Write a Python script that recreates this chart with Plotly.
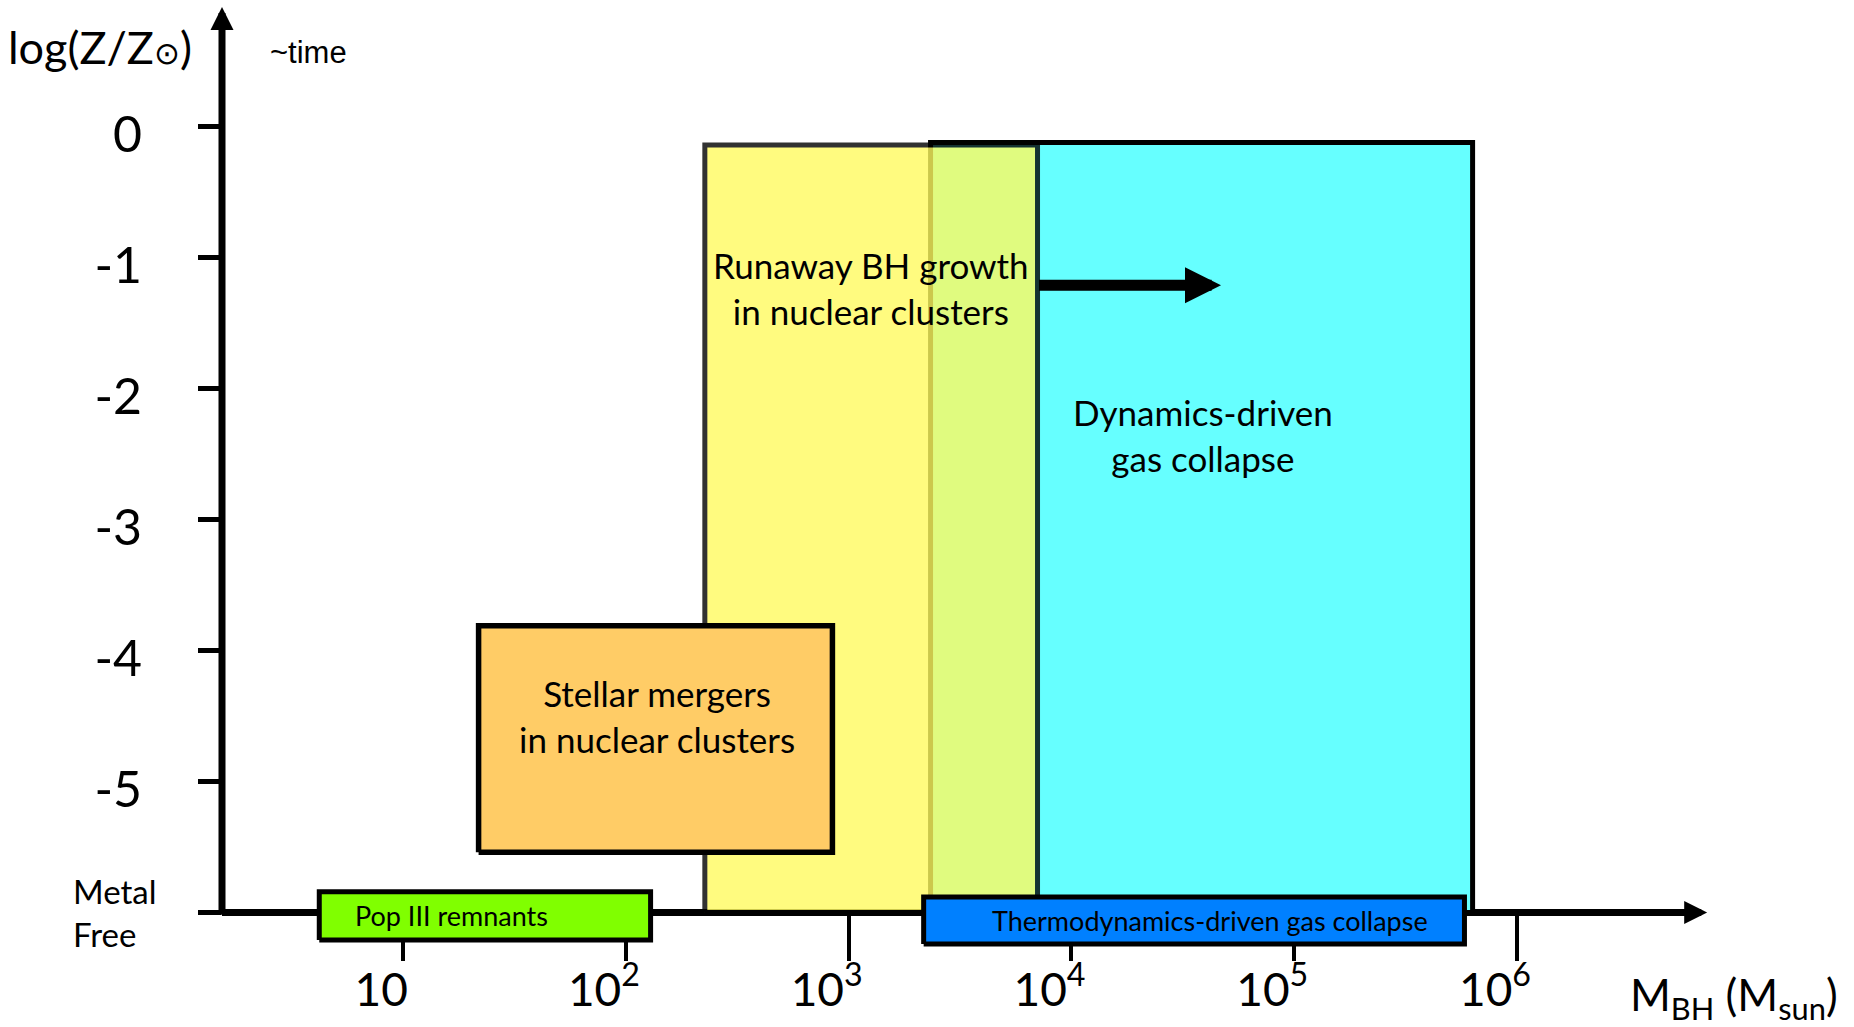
import numpy as np
import plotly.graph_objects as go

# ---------------- data ----------------
x_tick_mass = [10, 100, 1000, 10000, 100000, 1000000]
x_tick_labels = ["10", "10<sup>2</sup>", "10<sup>3</sup>", "10<sup>4</sup>",
                 "10<sup>5</sup>", "10<sup>6</sup>"]
y_tick_vals = [-6, -5, -4, -3, -2, -1, 0]
y_tick_labels = ["", "-5", "-4", "-3", "-2", "-1", "0"]

region_names = ["Dynamics-driven<br>gas collapse",
                "Runaway BH growth<br>in nuclear clusters",
                "Stellar mergers<br>in nuclear clusters",
                "Pop III remnants",
                "Thermodynamics-driven gas collapse"]
region_mass_lo = [2330, 226, 21.8, 4.2, 2170]          # Msun
region_mass_hi = [632000, 7040, 845, 129, 581000]      # Msun
region_logz_lo = [-6.0, -6.0, -5.54, -6.21, -6.24]     # log(Z/Zsun)
region_logz_hi = [-0.12, -0.14, -3.81, -5.84, -5.88]

growth_arrow_mass = [7040, 46900]   # runaway growth continues to higher mass
growth_arrow_logz = -1.21

# ---------------- layout geometry ----------------
W, H = 1854, 1027
L, R, T, B = 222, 1712, 6, 965
x_range = [0.1866, 6.8754]          # log10(M)
y_range = [-6.40, 0.9214]
FONT = "Lato, 'Open Sans', sans-serif"


def paper_x(px):
    return (px - L) / (R - L)


def paper_y(py):
    return (B - py) / (B - T)


styles = [
    dict(fill="#66FFFF", line="#000000", width=5, opacity=1.0),
    dict(fill="rgb(255,251,96)", line="#000000", width=5, opacity=0.8),
    dict(fill="#FFCC66", line="#000000", width=5.5, opacity=1.0),
    dict(fill="#80FF00", line="#000000", width=5, opacity=1.0),
    dict(fill="#0080FF", line="#000000", width=5, opacity=1.0),
]
label_pos = [(4.590, -2.357, 35), (3.100, -1.235, 35), (2.139, -4.500, 35),
             (1.217, -6.025, 27), (4.620, -6.063, 27)]

fig = go.Figure()

for i, name in enumerate(region_names):
    x0, x1 = np.log10(region_mass_lo[i]), np.log10(region_mass_hi[i])
    y0, y1 = region_logz_lo[i], region_logz_hi[i]
    st = styles[i]
    fig.add_trace(go.Scatter(
        x=[x0, x1, x1, x0, x0], y=[y0, y0, y1, y1, y0],
        mode="lines", fill="toself", fillcolor=st["fill"],
        line=dict(color=st["line"], width=st["width"]),
        opacity=st["opacity"], hoverinfo="skip", showlegend=False, name=name))

annotations = []
for i, name in enumerate(region_names):
    lx, ly, fs = label_pos[i]
    annotations.append(dict(x=lx, y=ly, xref="x", yref="y", text=name, showarrow=False,
                            font=dict(family=FONT, size=fs, color="black"),
                            xanchor="center", yanchor="middle", align="center"))

# growth arrow
annotations.append(dict(x=np.log10(growth_arrow_mass[1]), y=growth_arrow_logz,
                        ax=np.log10(growth_arrow_mass[0]), ay=growth_arrow_logz,
                        xref="x", yref="y", axref="x", ayref="y", text="",
                        showarrow=True, arrowhead=2, arrowwidth=11, arrowsize=0.6545,
                        arrowcolor="black"))

# y axis line with arrow
annotations.append(dict(x=x_range[0], y=0.9137, ax=x_range[0], ay=-6.027,
                        xref="x", yref="y", axref="x", ayref="y", text="",
                        showarrow=True, arrowhead=2, arrowwidth=7, arrowsize=0.657,
                        arrowcolor="black"))
# x axis arrow head
annotations.append(dict(x=6.8537, y=-6, ax=6.38, ay=-6,
                        xref="x", yref="y", axref="x", ayref="y", text="",
                        showarrow=True, arrowhead=2, arrowwidth=7, arrowsize=0.657,
                        arrowcolor="black"))

# axis titles and extra labels
annotations.append(dict(x=paper_x(100), y=paper_y(47), xref="paper", yref="paper",
                        text="log(Z/Z<span style='font-size:31px'>⊙</span>)",
                        showarrow=False, font=dict(family=FONT, size=45, color="black"),
                        xanchor="center", yanchor="middle"))
annotations.append(dict(x=paper_x(308), y=paper_y(52), xref="paper", yref="paper",
                        text="~time", showarrow=False,
                        font=dict(family="'Liberation Sans', Arial, sans-serif", size=31,
                                  color="black"),
                        xanchor="center", yanchor="middle"))
annotations.append(dict(x=paper_x(71), y=-6, xref="paper", yref="y",
                        text="Metal<br>Free", showarrow=False, align="left",
                        font=dict(family=FONT, size=33, color="black"),
                        xanchor="left", yanchor="middle"))
annotations.append(dict(x=paper_x(1734), y=paper_y(997), xref="paper", yref="paper",
                        text="M<sub>BH</sub> (M<sub>sun</sub>)", showarrow=False,
                        font=dict(family=FONT, size=44, color="black"),
                        xanchor="center", yanchor="middle"))

# x axis line (below the boxes)
shapes = [dict(type="line", xref="x", yref="y", x0=x_range[0], x1=6.78, y0=-6, y1=-6,
               line=dict(color="black", width=7), layer="below")]

xpos = (-6 - y_range[0]) / (y_range[1] - y_range[0])

fig.update_layout(
    width=W, height=H,
    margin=dict(l=L, r=W - R, t=T, b=H - B, pad=0, autoexpand=False),
    paper_bgcolor="white", plot_bgcolor="white",
    showlegend=False,
    annotations=annotations,
    shapes=shapes,
    xaxis=dict(range=x_range, tickmode="array", tickvals=list(np.log10(x_tick_mass)),
               ticktext=x_tick_labels, ticks="outside", ticklen=47, tickwidth=4,
               tickcolor="black", showline=False, showgrid=False, zeroline=False,
               anchor="free", position=xpos, layer="below traces", automargin=False,
               tickfont=dict(family=FONT, size=46, color="black"),
               ticklabelshift=-22, ticklabelstandoff=-10, fixedrange=True),
    yaxis=dict(range=y_range, tickmode="array", tickvals=y_tick_vals,
               ticktext=y_tick_labels, ticks="outside", ticklen=23, tickwidth=5,
               tickcolor="black", showline=False, showgrid=False, zeroline=False,
               automargin=False,
               tickfont=dict(family=FONT, size=50, color="black"),
               ticklabelstandoff=46, ticklabelshift=8, fixedrange=True),
)

fig.write_html("out.html", post_script="document.body.style.margin='0';",
               config={"displayModeBar": False})
